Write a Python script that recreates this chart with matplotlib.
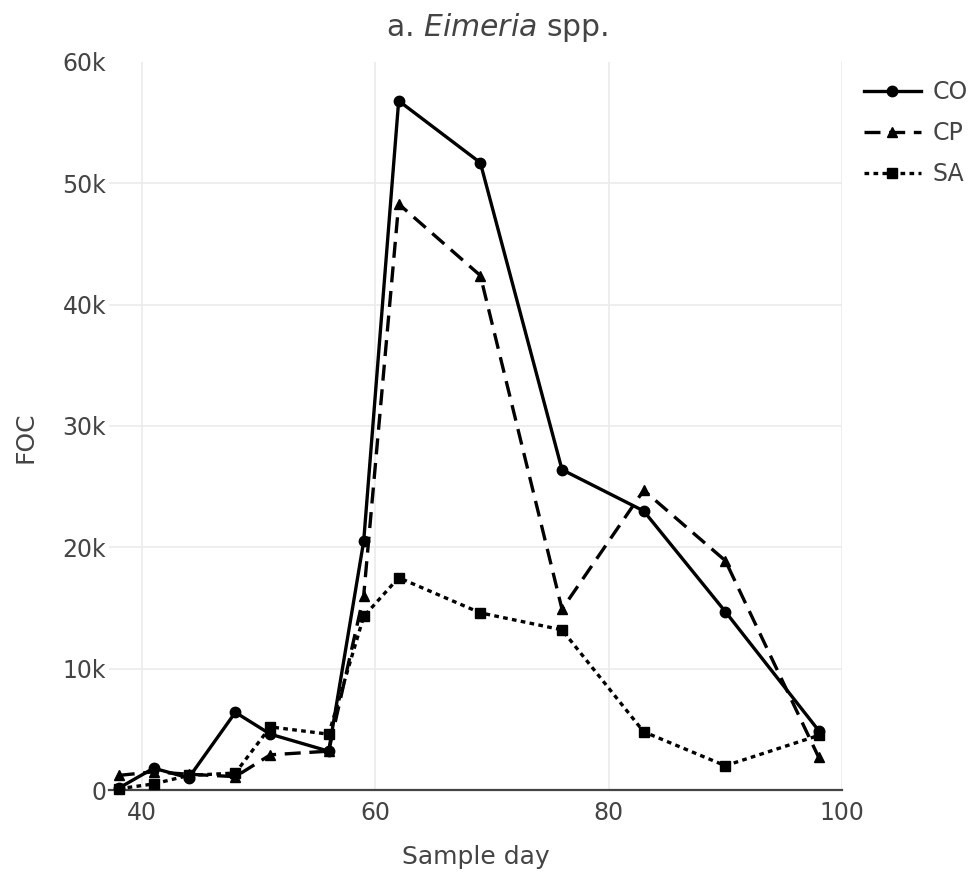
import matplotlib
matplotlib.use("Agg")
import matplotlib.pyplot as plt
from matplotlib.ticker import FuncFormatter

# ---- data ----
days = [38, 41, 44, 48, 51, 56, 59, 62, 69, 76, 83, 90, 98]
co = [150, 1800, 1000, 6400, 4600, 3200, 20500, 56800, 51700, 26400, 23000, 14700, 4900]
cp = [1200, 1500, 1300, 1100, 2900, 3200, 16000, 48300, 42400, 14900, 24700, 18900, 2700]
sa = [100, 500, 1200, 1400, 5200, 4600, 14300, 17500, 14600, 13200, 4800, 2000, 4500]
series_names = ["CO", "CP", "SA"]
x_ticks = [40, 60, 80, 100]
y_ticks = [0, 10000, 20000, 30000, 40000, 50000, 60000]

plt.rcParams["font.family"] = ["DejaVu Sans"]
plt.rcParams["mathtext.fontset"] = "custom"
plt.rcParams["mathtext.it"] = "DejaVu Sans:italic"
plt.rcParams["mathtext.rm"] = "DejaVu Sans"

TXT = "#444444"
fig = plt.figure(figsize=(9.76, 8.76), dpi=100)
ax = fig.add_axes([109 / 976, 1 - 790 / 876, 733 / 976, 728 / 876])

lw = 2.4
ax.plot(days, co, color="black", lw=lw, marker="o", ms=7.5, label=series_names[0],
        clip_on=False, zorder=3)
ax.plot(days, cp, color="black", lw=lw, marker="^", ms=7.5, dashes=(4.8, 2.6),
        label=series_names[1], clip_on=False, zorder=3)
ax.plot(days, sa, color="black", lw=lw, marker="s", ms=7.5, dashes=(1.4, 1.3),
        label=series_names[2], clip_on=False, zorder=3)

ax.set_xlim(37.17, 100)
ax.set_ylim(0, 60000)
ax.set_xticks(x_ticks)
ax.set_yticks(y_ticks)
ax.yaxis.set_major_formatter(FuncFormatter(lambda v, p: "0" if v == 0 else f"{int(v/1000)}k"))
ax.tick_params(length=0, labelsize=17, colors=TXT)
ax.tick_params(axis="x", pad=8)
ax.tick_params(axis="y", pad=2)

ax.grid(True, color="#ebebeb", lw=1.2)
ax.set_axisbelow(True)
ax.yaxis.get_gridlines()[-1].set_visible(False)
for s in ["top", "right", "left"]:
    ax.spines[s].set_visible(False)
ax.spines["bottom"].set_color("#444444")
ax.spines["bottom"].set_linewidth(1.6)

ax.set_xlabel("Sample day", fontsize=18, color=TXT, labelpad=14)
ax.set_ylabel("FOC", fontsize=18, color=TXT)
ax.yaxis.set_label_coords((37 - 109) / 733, (790 - 437) / 728)
fig.text(497 / 976, 1 - 28 / 876, r"a. $\mathit{Eimeria}$ spp.", fontsize=21.5,
         color=TXT, ha="center", va="center")

leg = fig.legend(loc="upper left", bbox_to_anchor=(864 / 976, 1 - 80 / 876),
                 frameon=False, fontsize=17, handlelength=2.4, handletextpad=0.5,
                 labelspacing=0.72, borderpad=0, borderaxespad=0)
for t in leg.get_texts():
    t.set_color(TXT)

fig.savefig("out.png", dpi=100)
